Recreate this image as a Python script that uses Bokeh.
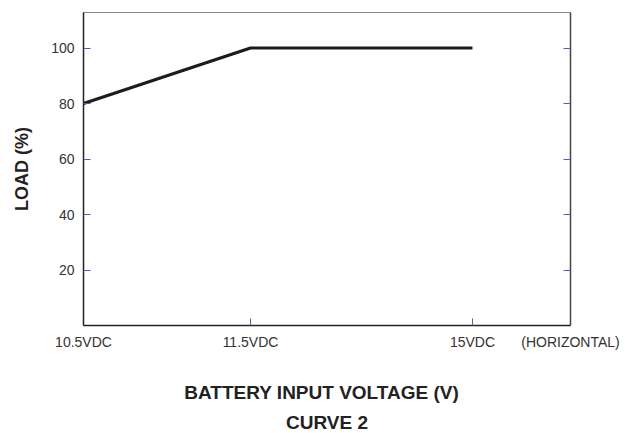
from bokeh.plotting import figure
from bokeh.models import Range1d, FixedTicker, LinearAxis, Title
from bokeh.embed import file_html
from bokeh.resources import INLINE

# Data
voltage_labels = ["10.5VDC", "11.5VDC", "15VDC", "(HORIZONTAL)"]
voltage_positions = [0.0, 1.0, 2.329, 2.916]   # schematic (non-linear) axis positions
curve_voltage_idx = [0, 1, 2]                  # points of the curve at these voltages
load_pct = [80, 100, 100]
y_ticks = [20, 40, 60, 80, 100]

FONT = "Liberation Sans"
TICK_COL = "#5a5aa8"

p = figure(frame_width=487, frame_height=313, output_backend="svg", toolbar_location=None,
           x_range=Range1d(voltage_positions[0], voltage_positions[-1]),
           y_range=Range1d(0, 112.8),
           x_axis_location=None, y_axis_location=None,
           min_border_left=83, min_border_right=50, min_border_top=12, min_border_bottom=100)
p.grid.visible = False
p.outline_line_color = "#8a8a8a"
p.outline_line_width = 1

xs = [voltage_positions[i] for i in curve_voltage_idx]
p.line(xs, load_pct, line_color="#1c1c1c", line_width=3.2)

# left axis
ly = LinearAxis(ticker=FixedTicker(ticks=y_ticks), axis_label="LOAD (%)")
ly.axis_line_color = "#222222"
ly.axis_line_width = 1.5
ly.major_tick_in = 7
ly.major_tick_out = 0
ly.major_tick_line_color = TICK_COL
ly.minor_tick_line_color = None
ly.major_label_text_font = FONT
ly.major_label_text_font_size = "14px"
ly.major_label_text_color = "#333333"
ly.major_label_standoff = 9
ly.axis_label_text_font = FONT
ly.axis_label_text_font_style = "bold"
ly.axis_label_text_font_size = "18px"
ly.axis_label_text_color = "#222222"
ly.axis_label_standoff = 16
p.add_layout(ly, "left")

# right axis (ticks only)
ry = LinearAxis(ticker=FixedTicker(ticks=y_ticks))
ry.axis_line_color = "#444444"
ry.axis_line_width = 1.5
ry.major_tick_in = 7
ry.major_tick_out = 0
ry.major_tick_line_color = TICK_COL
ry.minor_tick_line_color = None
ry.major_label_text_color = None
p.add_layout(ry, "right")

# bottom axis
bx = LinearAxis(ticker=FixedTicker(ticks=voltage_positions),
                axis_label="BATTERY  INPUT  VOLTAGE (V)")
bx.major_label_overrides = {v: s for v, s in zip(voltage_positions, voltage_labels)}
bx.axis_line_color = "#222222"
bx.axis_line_width = 1.5
bx.major_tick_in = 7
bx.major_tick_out = 0
bx.major_tick_line_color = TICK_COL
bx.minor_tick_line_color = None
bx.major_label_text_font = FONT
bx.major_label_text_font_size = "14px"
bx.major_label_text_color = "#333333"
bx.major_label_standoff = 8
bx.axis_label_text_font = FONT
bx.axis_label_text_font_style = "bold"
bx.axis_label_text_font_size = "19px"
bx.axis_label_text_color = "#222222"
bx.axis_label_standoff = 29
p.add_layout(bx, "below")

t = Title(text="CURVE 2", align="center", text_font=FONT, text_font_style="bold",
          text_font_size="19px", text_color="#222222", standoff=9)
p.add_layout(t, "below")

open("out.html", "w").write(file_html(p, INLINE))
